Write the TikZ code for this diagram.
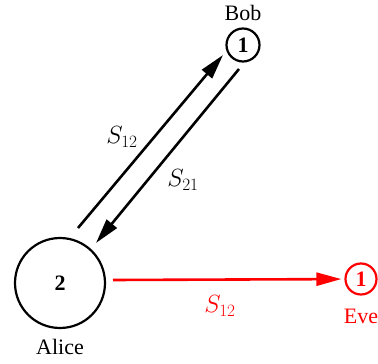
\documentclass[tikz,border=0pt]{standalone}
\usepackage[no-math]{fontspec}
\setmainfont{Liberation Serif}
\usetikzlibrary{arrows.meta}
\begin{document}
\begin{tikzpicture}[x=1pt,y=-1pt,
  party/.style={circle,draw,line width=2.2pt,inner sep=0pt,font=\fontsize{22}{24}\selectfont\bfseries},
  lbl/.style={font=\fontsize{22}{24}\selectfont},
  link/.style={line width=2.6pt,-{Triangle[length=25pt,width=13pt]}},
  mlbl/.style={font=\fontsize{24}{26}\selectfont}]
\useasboundingbox (0,0) rectangle (378,364);
\node[party,minimum size=33pt] (bob) at (243,45) {1};
\node[lbl] (boblbl) at (243,13) {Bob};
\node[party,minimum size=90pt] (alice) at (60,283) {2};
\node[lbl] (alicelbl) at (60,347) {Alice};
\node[party,red,minimum size=31pt] (eve) at (361,279) {1};
\node[lbl,red] (evelbl) at (361,316) {Eve};
\coordinate (a1) at (78,228);
\coordinate (b1) at (223,55);
\coordinate (b2) at (239,69);
\coordinate (a2) at (96,243);
\draw[link] (a1) -- (b1);
\draw[link] (b2) -- (a2);
\coordinate (r1) at (113,280);
\draw[link,red,shorten >=3pt] (r1) -- (eve);
\node[mlbl] (s12) at (122,137) {$S_{12}$};
\node[mlbl] (s21) at (183,180) {$S_{21}$};
\node[mlbl,red] (s12r) at (220,306) {$S_{12}$};
\end{tikzpicture}
\end{document}
